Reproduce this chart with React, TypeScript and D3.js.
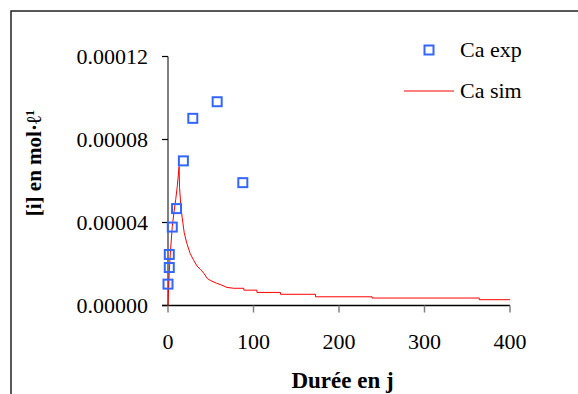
import React from "react";
import * as d3 from "d3";

const expDays = [0, 1.5, 1.5, 5, 10, 18, 29, 57.5, 87.5];
const expValues = [0.0000103, 0.0000183, 0.0000246, 0.0000378, 0.0000467, 0.0000697, 0.0000902, 0.0000982, 0.0000592];

const simDays = [0, 1, 2, 3, 5, 7, 9, 11, 13, 13.5, 15, 16.5, 19, 22, 26, 30, 34, 38, 42, 46, 50, 57, 63, 69, 77, 88.6, 88.6, 104, 104, 131.6, 131.6, 172.5, 172.5, 238.7, 238.7, 364, 364, 400];
const simValues = [0, 0.000012, 0.00002, 0.000027, 0.000038, 0.000045, 0.000051, 0.000058, 0.000067, 0.000057, 0.000048, 0.0000426, 0.000035, 0.00003, 0.000025, 0.0000218, 0.000019, 0.0000174, 0.0000155, 0.000013, 0.000012, 0.0000107, 0.0000098, 0.0000087, 0.0000083, 0.0000083, 0.0000074, 0.0000074, 0.0000063, 0.0000063, 0.0000054, 0.0000054, 0.0000042, 0.0000042, 0.0000036, 0.0000036, 0.0000028, 0.0000028];

const xTicks = [0, 100, 200, 300, 400];
const yTicks = [0, 0.00004, 0.00008, 0.00012];
const yTickLabels = ["0.00000", "0.00004", "0.00008", "0.00012"];

const FONT = "Liberation Serif";
const tStyle = { fontFamily: FONT };

export default function App() {
  const x = d3.scaleLinear().domain([0, 400]).range([168, 510]);
  const y = d3.scaleLinear().domain([0, 0.00012]).range([305.5, 56.5]);
  const simPts: [number, number][] = simDays.map((d, i) => [d, simValues[i]]);
  const line = d3
    .line<[number, number]>()
    .x((d) => x(d[0]))
    .y((d) => y(d[1]));
  const sq = 9;
  return (
    <svg
      width={578}
      height={394}
      style={{ position: "absolute", left: 0, top: 0, background: "#fff", fontFamily: FONT }}
    >
      <rect x={0} y={0} width={578} height={394} fill="#fff" />
      {/* frame */}
      <path d="M11,394 L11,11 L578,11" fill="none" stroke="#222" strokeWidth={1.5} />
      {/* y axis */}
      <line x1={x(0)} x2={x(0)} y1={y(0.00012)} y2={y(0)} stroke="#808080" strokeWidth={2} />
      {yTicks.map((t, i) => (
        <g key={"yt" + i}>
          <line x1={x(0) - 6} x2={x(0)} y1={y(t)} y2={y(t)} stroke="#000" strokeWidth={1.2} />
          <text x={148} y={y(t)} dy="0.35em" textAnchor="end" fontSize={22} fill="#000" style={tStyle}>
            {yTickLabels[i]}
          </text>
        </g>
      ))}
      {/* x axis */}
      <line x1={x(0) - 6} x2={x(400)} y1={y(0)} y2={y(0)} stroke="#000" strokeWidth={1.5} />
      {xTicks.map((t, i) => (
        <g key={"xt" + i}>
          <line x1={x(t)} x2={x(t)} y1={y(0)} y2={y(0) + 7} stroke="#808080" strokeWidth={1.5} />
          <text x={x(t)} y={349} textAnchor="middle" fontSize={22} fill="#000" style={tStyle}>
            {t}
          </text>
        </g>
      ))}
      {/* sim line */}
      <path d={line(simPts) || ""} fill="none" stroke="#FF0000" strokeWidth={1} />
      {/* exp points */}
      {expDays.map((d, i) => (
        <rect
          key={"e" + i}
          x={x(d) - sq / 2}
          y={y(expValues[i]) - sq / 2}
          width={sq}
          height={sq}
          fill="none"
          stroke="#3366FF"
          strokeWidth={2}
        />
      ))}
      {/* legend */}
      <rect x={429 - sq / 2} y={50 - sq / 2} width={sq} height={sq} fill="none" stroke="#3366FF" strokeWidth={2} />
      <text x={460} y={57} fontSize={22} fill="#000" style={tStyle}>Ca exp</text>
      <line x1={404} x2={454} y1={91} y2={91} stroke="#FF0000" strokeWidth={1} />
      <text x={460} y={98} fontSize={22} fill="#000" style={tStyle}>Ca sim</text>
      {/* axis titles */}
      <text x={342.5} y={388} textAnchor="middle" fontSize={23} fontWeight="bold" fill="#000" style={tStyle}>
        Durée en j
      </text>
      <text
        transform={`translate(41,163) rotate(-90)`}
        textAnchor="middle"
        fontSize={21}
        fontWeight="bold"
        fill="#000"
        style={tStyle}
      >
        [i] en mol·ℓ
        <tspan baselineShift="super" fontSize={13}>1</tspan>
      </text>
    </svg>
  );
}
